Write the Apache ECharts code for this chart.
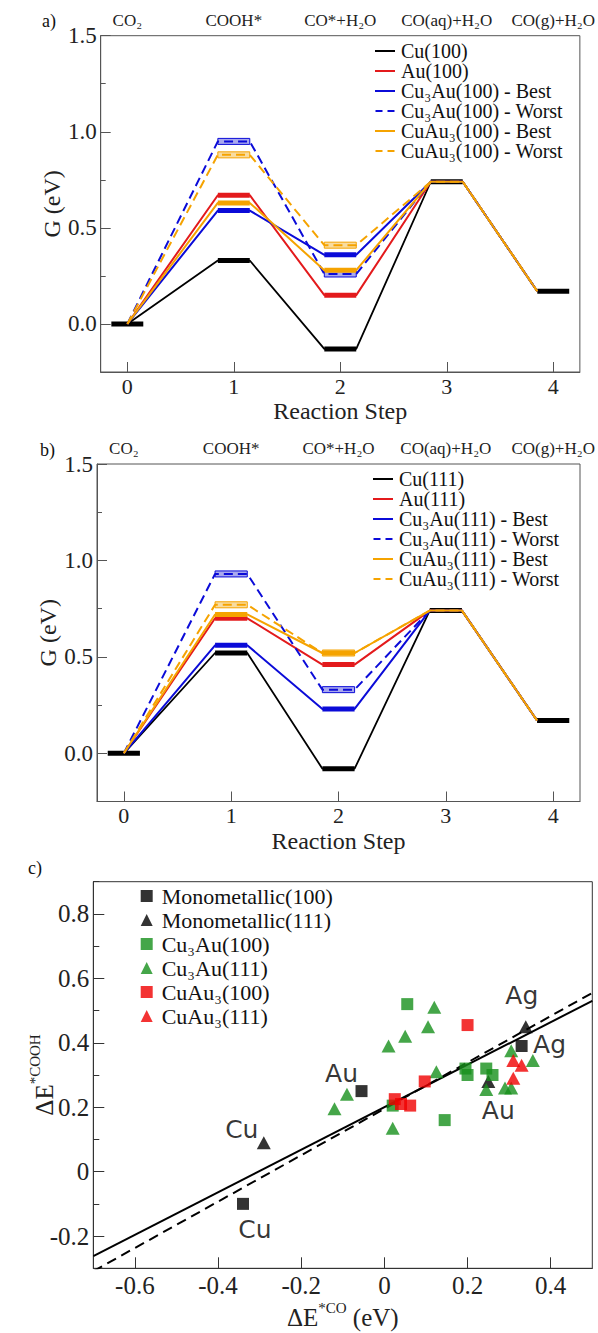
<!DOCTYPE html>
<html><head><meta charset="utf-8">
<script src="https://cdn.jsdelivr.net/npm/echarts@6/dist/echarts.min.js"></script>
<style>html,body{margin:0;padding:0;background:#fff}#c{width:598px;height:1333px}</style>
</head><body><div id="c"></div>
<script>
// ---------- data: panels a) and b) ----------
const steps = [0, 1, 2, 3, 4];
const stepLabels = ['CO₂', 'COOH*', 'CO*+H₂O', 'CO(aq)+H₂O', 'CO(g)+H₂O'];
const gTicks = [0, 0.5, 1.0, 1.5];
const gMinorTicks = [-0.25, 0.25, 0.75, 1.25];

const namesA = ['Cu(100)', 'Au(100)', 'Cu₃Au(100) - Best', 'Cu₃Au(100) - Worst', 'CuAu₃(100) - Best', 'CuAu₃(100) - Worst'];
const cu100        = [0, 0.33, -0.13, 0.74, 0.17];
const au100        = [0, 0.67,  0.15, 0.74, 0.17];
const cu3au100Best = [0, 0.59,  0.36, 0.74, 0.17];
const cu3au100Worst= [0, 0.95,  0.26, 0.74, 0.17];
const cuau3100Best = [0, 0.63,  0.28, 0.74, 0.17];
const cuau3100Worst= [0, 0.88,  0.41, 0.74, 0.17];

const namesB = ['Cu(111)', 'Au(111)', 'Cu₃Au(111) - Best', 'Cu₃Au(111) - Worst', 'CuAu₃(111) - Best', 'CuAu₃(111) - Worst'];
const cu111        = [0, 0.52, -0.08, 0.74, 0.17];
const au111        = [0, 0.70,  0.46, 0.74, 0.17];
const cu3au111Best = [0, 0.56,  0.23, 0.74, 0.17];
const cu3au111Worst= [0, 0.93,  0.33, 0.74, 0.17];
const cuau3111Best = [0, 0.72,  0.52, 0.74, 0.17];
const cuau3111Worst= [0, 0.77,  0.52, 0.74, 0.17];

// ---------- data: panel c) ----------
const namesC = ['Monometallic(100)', 'Monometallic(111)', 'Cu₃Au(100)', 'Cu₃Au(111)', 'CuAu₃(100)', 'CuAu₃(111)'];
const mono100 = [[-0.34, -0.10], [-0.055, 0.25], [0.33, 0.39]];
const mono100Names = ['Cu', 'Au', 'Ag'];
const mono111 = [[-0.29, 0.09], [0.25, 0.28], [0.34, 0.45]];
const mono111Names = ['Cu', 'Au', 'Ag'];
const cu3au100 = [[0.055, 0.52], [0.195, 0.32], [0.20, 0.30], [0.245, 0.32], [0.26, 0.30], [0.145, 0.16], [0.02, 0.205]];
const cu3au111 = [[0.12, 0.51], [0.105, 0.45], [0.05, 0.42], [0.01, 0.39], [0.125, 0.31], [-0.09, 0.24], [-0.12, 0.195],
                  [0.02, 0.135], [0.245, 0.255], [0.29, 0.26], [0.305, 0.26], [0.305, 0.375], [0.357, 0.345]];
const cuau3100 = [[0.20, 0.455], [0.097, 0.28], [0.025, 0.225], [0.04, 0.21], [0.062, 0.205]];
const cuau3111 = [[0.31, 0.345], [0.33, 0.33], [0.31, 0.29]];
const fitSolid  = [[-0.7, -0.262], [0.5, 0.53]];
const fitDashed = [[-0.7, -0.309], [0.5, 0.555]];
const xTicksC = [-0.6, -0.4, -0.2, 0, 0.2, 0.4];
const yTicksC = [-0.2, 0, 0.2, 0.4, 0.6, 0.8];
const yMinorC = [-0.3, -0.1, 0.1, 0.3, 0.5, 0.7, 0.9];

// ---------- styling ----------
const FONT = 'Liberation Serif';
const AXC = '#555';
const TXT = '#222';
const lineStyles = [
  {color: '#000000', type: 'solid', width: 1.8, worst: false},
  {color: '#e31a1c', type: 'solid', width: 2, worst: false},
  {color: '#0b0bd8', type: 'solid', width: 2, worst: false},
  {color: '#0b0bd8', type: [9, 5], width: 2, worst: true, fill: '#a9a9ee'},
  {color: '#f5a300', type: 'solid', width: 2, worst: false},
  {color: '#f5a300', type: [9, 5], width: 2, worst: true, fill: '#f8dca0'}
];
const HALF = 0.15;
const ICON_SOLID = 'path://M0,0H20V2H0Z';
const ICON_DASH = 'path://M0,0H7V2H0Z M12,0H19V2H12Z';

function rt(size, lh) { return {t: {fontFamily: FONT, fontSize: size, color: TXT, lineHeight: lh || size + 2}}; }
function wrap(s) { return '{t|' + s + '}'; }

function pathPoints(vals) {
  const pts = [[steps[0], vals[0]]];
  for (let k = 1; k < steps.length; k++) {
    pts.push([steps[k] - HALF, vals[k]]);
    if (k < steps.length - 1) pts.push([steps[k] + HALF, vals[k]]);
  }
  return pts;
}

function panelSeries(names, seriesVals, xi, yi, tag) {
  const out = [];
  seriesVals.forEach((vals, i) => {
    const st = lineStyles[i];
    out.push({
      name: names[i], type: 'line', xAxisIndex: xi, yAxisIndex: yi,
      data: pathPoints(vals), symbol: 'none', silent: true, animation: false,
      lineStyle: {color: st.color, width: st.width, type: st.type}, itemStyle: {color: st.color}
    });
  });
  const common = steps.map((s, k) => seriesVals.every(v => v[k] === seriesVals[0][k]));
  const barData = [];
  const order = [3, 5, 0, 1, 2, 4];
  order.forEach(i => {
    steps.forEach((s, k) => {
      if (!common[k]) barData.push([s, seriesVals[i][k], i]);
    });
  });
  steps.forEach((s, k) => { if (common[k]) barData.push([s, seriesVals[0][k], -1]); });
  out.push({
    name: 'bars' + tag, type: 'custom', xAxisIndex: xi, yAxisIndex: yi, silent: true, animation: false,
    encode: {x: 0, y: 1}, data: barData,
    renderItem: function (params, api) {
      const s = api.value(0), v = api.value(1), i = api.value(2);
      const p1 = api.coord([s - HALF, v]), p2 = api.coord([s + HALF, v]);
      if (i >= 0 && lineStyles[i].worst) {
        return {type: 'rect', shape: {x: p1[0], y: p1[1] - 3, width: p2[0] - p1[0], height: 6},
                style: {fill: lineStyles[i].fill, stroke: lineStyles[i].color, lineWidth: 1}};
      }
      const col = i < 0 ? '#000' : lineStyles[i].color;
      return {type: 'line', shape: {x1: p1[0], y1: p1[1], x2: p2[0], y2: p2[1]},
              style: {stroke: col, lineWidth: 5}};
    }
  });
  return out;
}

function gAxesX(gridIndex) {
  return [
    {type: 'value', gridIndex, min: -0.25, max: 4.25, position: 'bottom',
     axisLine: {onZero: false, lineStyle: {color: AXC}}, splitLine: {show: false},
     axisTick: {inside: true, length: 10, customValues: steps, lineStyle: {color: AXC}},
     axisLabel: {customValues: steps, margin: 4, formatter: v => wrap(String(v)), rich: rt(22, 20)},
     name: wrap('Reaction Step'), nameLocation: 'middle', nameGap: 28, nameMoveOverlap: false,
     nameTextStyle: {rich: rt(24, 22)}},
    {type: 'value', gridIndex, min: -0.25, max: 4.25, position: 'top',
     axisLine: {show: false, onZero: false}, axisTick: {show: false}, splitLine: {show: false},
     axisLabel: {customValues: steps, margin: 6, rich: rt(17),
                 formatter: v => wrap(stepLabels[Math.round(v)])}}
  ];
}
function gAxesY(gridIndex) {
  return [
    {type: 'value', gridIndex, min: -0.25, max: 1.5, position: 'left',
     axisLine: {onZero: false, lineStyle: {color: AXC}}, splitLine: {show: false},
     axisTick: {inside: true, length: 10, customValues: gTicks, lineStyle: {color: AXC}},
     axisLabel: {customValues: gTicks, margin: 4, rich: rt(23), formatter: v => wrap(v.toFixed(1))},
     name: wrap('G (eV)'), nameLocation: 'middle', nameRotate: 90, nameGap: 36, nameMoveOverlap: false,
     nameTextStyle: {rich: rt(24)}},
    {type: 'value', gridIndex, min: -0.25, max: 1.5, position: 'left', offset: 0,
     axisLine: {show: false, onZero: false}, splitLine: {show: false}, axisLabel: {show: false},
     axisTick: {inside: true, length: 5, customValues: gMinorTicks, lineStyle: {color: AXC}}}
  ];
}

const labelOffsets100 = [[12, 26], [-20, -18], [28, -2]];
const labelOffsets111 = [[-22, -13], [10, 29], [-4, -31]];
function monoData(pts, names, offs) {
  return pts.map((p, i) => ({
    value: p, name: names[i],
    label: {show: true, position: 'inside', offset: offs[i], formatter: '{b}',
            fontFamily: 'DejaVu Sans', fontSize: 25, color: '#000'}
  }));
}

const series = [].concat(
  panelSeries(namesA, [cu100, au100, cu3au100Best, cu3au100Worst, cuau3100Best, cuau3100Worst], 0, 0, 'A'),
  panelSeries(namesB, [cu111, au111, cu3au111Best, cu3au111Worst, cuau3111Best, cuau3111Worst], 2, 2, 'B'),
  [
    {name: 'fit1', type: 'line', xAxisIndex: 4, yAxisIndex: 4, data: fitSolid, symbol: 'none', silent: true,
     lineStyle: {color: '#000', width: 2}, z: 1},
    {name: 'fit2', type: 'line', xAxisIndex: 4, yAxisIndex: 4, data: fitDashed, symbol: 'none', silent: true,
     lineStyle: {color: '#000', width: 2, type: [10, 6]}, z: 1},
    {name: namesC[0], type: 'scatter', xAxisIndex: 4, yAxisIndex: 4, symbol: 'rect', symbolSize: 12,
     itemStyle: {color: '#000'}, data: monoData(mono100, mono100Names, labelOffsets100)},
    {name: namesC[1], type: 'scatter', xAxisIndex: 4, yAxisIndex: 4, symbol: 'triangle', symbolSize: [14, 13],
     itemStyle: {color: '#000'}, data: monoData(mono111, mono111Names, labelOffsets111)},
    {name: namesC[2], type: 'scatter', xAxisIndex: 4, yAxisIndex: 4, symbol: 'rect', symbolSize: 12,
     itemStyle: {color: '#17901b'}, data: cu3au100},
    {name: namesC[3], type: 'scatter', xAxisIndex: 4, yAxisIndex: 4, symbol: 'triangle', symbolSize: [14, 13],
     itemStyle: {color: '#17901b'}, data: cu3au111},
    {name: namesC[4], type: 'scatter', xAxisIndex: 4, yAxisIndex: 4, symbol: 'rect', symbolSize: 12,
     itemStyle: {color: '#f00000'}, data: cuau3100},
    {name: namesC[5], type: 'scatter', xAxisIndex: 4, yAxisIndex: 4, symbol: 'triangle', symbolSize: [14, 13],
     itemStyle: {color: '#f00000'}, data: cuau3111}
  ]
);

const fmtC = v => wrap(String(Math.round(v * 10) / 10));
const supRich = {
  m: {fontFamily: FONT, fontSize: 25, color: TXT, lineHeight: 30, verticalAlign: 'bottom'},
  s: {fontFamily: FONT, fontSize: 15, color: TXT, lineHeight: 30, verticalAlign: 'top'}
};
const legendIcons = names => names.map((n, i) => ({name: n, icon: lineStyles[i].worst ? ICON_DASH : ICON_SOLID}));

const option = {
  backgroundColor: '#fff',
  animation: false,
  textStyle: {fontFamily: FONT},
  grid: [
    {left: 100.7, top: 35.7, width: 481, height: 336.3, show: true, borderColor: AXC, borderWidth: 1, backgroundColor: 'transparent'},
    {left: 97, top: 464, width: 483, height: 337.5, show: true, borderColor: AXC, borderWidth: 1, backgroundColor: 'transparent'},
    {left: 93.3, top: 881.7, width: 499, height: 386.6, show: true, borderColor: '#333', borderWidth: 1, backgroundColor: 'transparent'}
  ],
  xAxis: [].concat(gAxesX(0), gAxesX(1), [
    {type: 'value', gridIndex: 2, min: -0.7, max: 0.5, position: 'bottom',
     axisLine: {onZero: false, lineStyle: {color: '#333'}}, splitLine: {show: false},
     axisTick: {inside: true, length: 11, customValues: xTicksC, lineStyle: {color: '#333'}},
     axisLabel: {customValues: xTicksC, formatter: fmtC, rich: rt(25, 22), margin: 6},
     name: '{m|ΔE}{s|*CO}{m| (eV)}', nameLocation: 'middle', nameGap: 32, nameMoveOverlap: false,
     nameTextStyle: {rich: supRich}}
  ]),
  yAxis: [].concat(gAxesY(0), gAxesY(1), [
    {type: 'value', gridIndex: 2, min: -0.3, max: 0.9, position: 'left',
     axisLine: {onZero: false, lineStyle: {color: '#333'}}, splitLine: {show: false},
     axisTick: {inside: true, length: 11, customValues: yTicksC, lineStyle: {color: '#333'}},
     axisLabel: {customValues: yTicksC, formatter: fmtC, rich: rt(25), margin: 4},
     name: '{m|ΔE}{s|*COOH}', nameLocation: 'middle', nameRotate: 90, nameGap: 36, nameMoveOverlap: false,
     nameTextStyle: {rich: supRich}},
    {type: 'value', gridIndex: 2, min: -0.3, max: 0.9, position: 'left', offset: 0,
     axisLine: {show: false, onZero: false}, splitLine: {show: false}, axisLabel: {show: false},
     axisTick: {inside: true, length: 6, customValues: yMinorC, lineStyle: {color: '#333'}}}
  ]),
  legend: [
    {data: legendIcons(namesA), orient: 'vertical', left: 370, top: 36, itemWidth: 20, itemHeight: 2, itemGap: 0,
     selectedMode: false, textStyle: {fontFamily: FONT, fontSize: 20, color: '#111', lineHeight: 16, padding: [0, 0, 0, 1]}},
    {data: legendIcons(namesB), orient: 'vertical', left: 368, top: 464, itemWidth: 20, itemHeight: 2, itemGap: 0,
     selectedMode: false, textStyle: {fontFamily: FONT, fontSize: 20, color: '#111', lineHeight: 16, padding: [0, 0, 0, 1]}},
    {data: namesC, orient: 'vertical', left: 135.7, top: 880, itemWidth: 12, itemHeight: 12, itemGap: 2,
     selectedMode: false, textStyle: {fontFamily: FONT, fontSize: 22, color: '#111', lineHeight: 20, padding: [0, 0, 0, 4]}}
  ],
  graphic: [
    {type: 'text', left: 42, top: 12, style: {text: 'a)', fontFamily: FONT, fontSize: 18, fill: '#111'}},
    {type: 'text', left: 40, top: 441, style: {text: 'b)', fontFamily: FONT, fontSize: 18, fill: '#111'}},
    {type: 'text', left: 28, top: 859, style: {text: 'c)', fontFamily: FONT, fontSize: 18, fill: '#111'}}
  ],
  series
};

const chart = echarts.init(document.getElementById('c'), null, {renderer: 'svg', width: 598, height: 1333});
chart.setOption(option);
</script>
</body></html>
